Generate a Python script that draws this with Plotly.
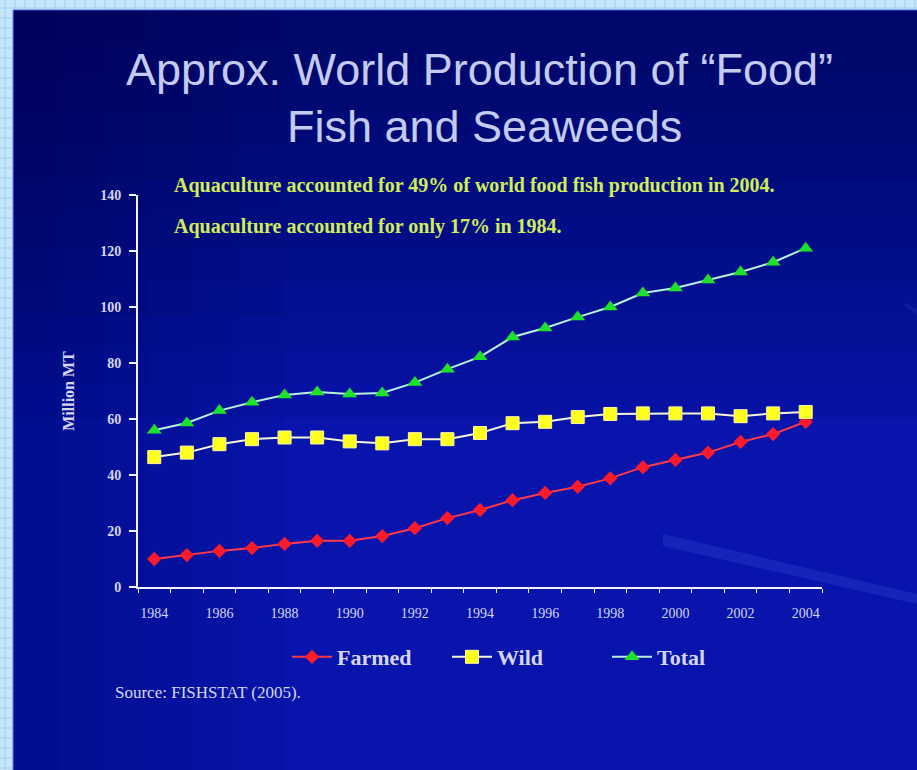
import plotly.graph_objects as go

W, H = 917, 770
L, R, T, B = 138, 95, 195, 183
PW, PH = W - L - R, H - T - B

years = list(range(1984, 2005))
farmed = [10, 11.4, 12.9, 13.9, 15.4, 16.5, 16.5, 18.2, 21, 24.6, 27.5, 31, 33.6, 35.8, 38.8, 42.8, 45.4, 48, 51.8, 54.6, 59]
wild = [46.4, 48, 51, 52.8, 53.4, 53.4, 52, 51.3, 52.8, 52.8, 55, 58.5, 59, 60.7, 61.8, 62, 62, 62, 61, 62, 62.5]
total = [56, 58.6, 63, 66, 68.6, 69.6, 68.9, 69.3, 73, 77.8, 82.2, 89.3, 92.5, 96.4, 100, 105, 106.8, 109.6, 112.5, 116, 121]
label_years = list(range(1984, 2005, 2))
y_ticks = list(range(0, 141, 20))

def px(x):
    return (x - L) / PW

def py(y):
    return (H - B - y) / PH

LIGHT = "#d4d6ee"
SERIF = "Liberation Serif"

fig = go.Figure()
fig.add_trace(go.Scatter(x=years, y=farmed, name="Farmed", mode="lines+markers",
                         line=dict(color="#ff3a4a", width=2),
                         marker=dict(symbol="diamond", size=11, color="#ff1a2a")))
fig.add_trace(go.Scatter(x=years, y=wild, name="Wild", mode="lines+markers",
                         line=dict(color="#f4f4d8", width=2),
                         marker=dict(symbol="square", size=13, color="#ffff1e",
                                     line=dict(color="#fff8a0", width=1))))
fig.add_trace(go.Scatter(x=years, y=total, name="Total", mode="lines+markers",
                         line=dict(color="#b8f0dc", width=2),
                         marker=dict(symbol="triangle-up", size=13, color="#1ee22a")))

shapes = []
# light blue grid background (visible around the slide)
path = ""
for gx in range(5, W + 1, 10):
    path += f"M{px(gx)},{py(0)} L{px(gx)},{py(H)} "
for gy in range(8, H + 1, 10):
    path += f"M{px(0)},{py(gy)} L{px(W)},{py(gy)} "
shapes.append(dict(type="path", xref="paper", yref="paper", path=path,
                   line=dict(color="#9ccff4", width=1), layer="below"))
# slide
shapes.append(dict(type="rect", xref="paper", yref="paper",
                   x0=px(13), x1=px(W + 5), y0=py(10), y1=py(H + 5),
                   fillcolor="#0814ac", line=dict(color="#5a78e0", width=1), layer="below"))
# darker top (vertical gradient)
for i in range(12):
    yb = 10 + (i + 1) * 34
    shapes.append(dict(type="rect", xref="paper", yref="paper",
                       x0=px(14), x1=px(W + 5), y0=py(10.5), y1=py(yb),
                       fillcolor="#000030", opacity=0.05, line=dict(width=0), layer="below"))
# darker left side
for i in range(6):
    xr = 14 + (i + 1) * 45
    shapes.append(dict(type="rect", xref="paper", yref="paper",
                       x0=px(14), x1=px(xr), y0=py(10.5), y1=py(H + 5),
                       fillcolor="#000030", opacity=0.04, line=dict(width=0), layer="below"))
# faint light streaks
shapes.append(dict(type="path", xref="paper", yref="paper",
                   path=f"M{px(663)},{py(534)} L{px(917)},{py(594)} L{px(917)},{py(604)} L{px(663)},{py(546)} Z",
                   fillcolor="#4a62e8", opacity=0.22, line=dict(width=0), layer="below"))
shapes.append(dict(type="path", xref="paper", yref="paper",
                   path=f"M{px(905)},{py(302)} L{px(917)},{py(310)} L{px(917)},{py(315)} L{px(905)},{py(306)} Z",
                   fillcolor="#4a62e8", opacity=0.15, line=dict(width=0), layer="below"))

annotations = [
    dict(text="Approx. World Production of “Food”",
         xref="paper", yref="paper", x=px(479), y=py(70), xanchor="center", yanchor="middle",
         showarrow=False, font=dict(family="Liberation Sans", size=45, color="#c4cbee")),
    dict(text="Fish and Seaweeds",
         xref="paper", yref="paper", x=px(484), y=py(126), xanchor="center", yanchor="middle",
         showarrow=False, font=dict(family="Liberation Sans", size=45, color="#c4cbee")),
    dict(text="Aquaculture accounted for 49% of world food fish production in 2004.",
         xref="paper", yref="paper", x=px(172), y=py(186), xanchor="left", yanchor="middle",
         showarrow=False, font=dict(family=SERIF, size=20, color="#d2ec5a", weight="bold")),
    dict(text="Aquaculture accounted for only 17% in 1984.",
         xref="paper", yref="paper", x=px(172), y=py(226), xanchor="left", yanchor="middle",
         showarrow=False, font=dict(family=SERIF, size=20, color="#d2ec5a", weight="bold")),
    dict(text="Source: FISHSTAT (2005).",
         xref="paper", yref="paper", x=px(113), y=py(692), xanchor="left", yanchor="middle",
         showarrow=False, font=dict(family=SERIF, size=17, color=LIGHT)),
]

fig.update_layout(
    width=W, height=H,
    margin=dict(l=L, r=R, t=T, b=B, pad=0),
    paper_bgcolor="#c6e6fb",
    plot_bgcolor="rgba(0,0,0,0)",
    shapes=shapes,
    annotations=annotations,
    showlegend=True,
    legend=dict(orientation="h", x=px(287), y=py(657), xanchor="left", yanchor="middle",
                bgcolor="rgba(0,0,0,0)", font=dict(family=SERIF, size=22, color=LIGHT, weight="bold"),
                entrywidth=105, itemwidth=40),
    xaxis=dict(range=[1983.5, 2004.5], tickvals=label_years, ticktext=[str(y) for y in label_years],
               ticks="", showgrid=False, zeroline=False,
               showline=True, linecolor="#f4f4ff", linewidth=2,
               ticklabelstandoff=12,
               tickfont=dict(family=SERIF, size=14, color=LIGHT),
               minor=dict(tickvals=[y + 0.5 for y in range(1983, 2005)], ticks="outside",
                          ticklen=4, tickcolor="#f4f4ff", tickwidth=1, showgrid=False)),
    yaxis=dict(range=[0, 140], tickvals=y_ticks, ticks="outside", ticklen=7, tickwidth=1.5,
               tickcolor="#f4f4ff", showgrid=False, zeroline=False,
               showline=True, linecolor="#f4f4ff", linewidth=2,
               ticklabelstandoff=5,
               tickfont=dict(family=SERIF, size=14, color=LIGHT, weight="bold"),
               title=dict(text="Million MT", standoff=22,
                          font=dict(family=SERIF, size=16, color=LIGHT, weight="bold"))),
)

fig.write_html("out.html")
